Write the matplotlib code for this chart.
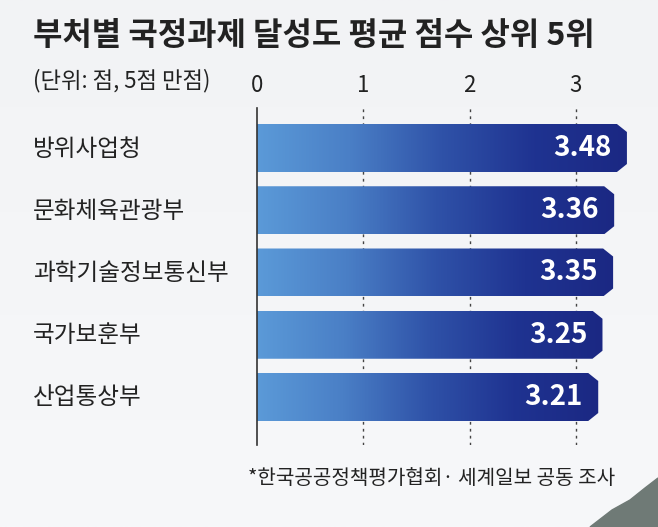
import numpy as np
import matplotlib.pyplot as plt
from matplotlib.colors import LinearSegmentedColormap
from matplotlib.patches import Polygon

plt.rcParams['font.family'] = ['Noto Sans CJK KR', 'DejaVu Sans']

title = '부처별 국정과제 달성도 평균 점수 상위 5위'
subtitle = '(단위: 점, 5점 만점)'
note = '*한국공공정책평가협회· 세계일보 공동 조사'
ministries = ['방위사업청', '문화체육관광부', '과학기술정보통신부', '국가보훈부', '산업통상부']
scores = [3.48, 3.36, 3.35, 3.25, 3.21]
ticks = [0, 1, 2, 3]

W, H = 658, 527
fig = plt.figure(figsize=(W / 100, H / 100), dpi=100)
fig.patch.set_facecolor('#f4f5f7')

# 배경 (아래쪽 산 그림자)
bg = fig.add_axes([0, 0, 1, 1])
bg.set_xlim(0, W)
bg.set_ylim(H, 0)
bg.axis('off')
grad = np.linspace(0, 1, 200)[:, None]
bg.imshow(grad, extent=(0, W, H, 0), cmap=LinearSegmentedColormap.from_list('bg', ['#f2f3f5', '#f7f8fa']),
          aspect='auto', zorder=0)
bg.add_patch(Polygon([(590, 527), (612, 510), (630, 500), (645, 488), (658, 478), (658, 527)],
                     closed=True, color='#6f7a76', zorder=1))

ppu = 106.3  # 1점당 픽셀
x0 = 257
xmax = 3.75
top, bottom = 108, 445
ax = fig.add_axes([x0 / W, 1 - bottom / H, xmax * ppu / W, (bottom - top) / H])
ax.set_facecolor('none')
step = 62.25
ylo = -(148 - top) / step
yhi = 4 + (bottom - 397) / step
ax.set_xlim(0, xmax)
ax.set_ylim(yhi, ylo)

cmap = LinearSegmentedColormap.from_list('bar', ['#5b9ad8', '#4a7fc6', '#2f52a8', '#1f3391', '#1b2883'])
h = 48 / step
cx = 10 / ppu
cy = 8 / step
for i, v in enumerate(scores):
    y1, y2 = i - h / 2, i + h / 2
    pts = [(0, y1), (v - cx, y1), (v, y1 + cy), (v, y2 - cy), (v - cx, y2), (0, y2)]
    poly = Polygon(pts, closed=True, facecolor='none', edgecolor='none')
    ax.add_patch(poly)
    im = ax.imshow(np.linspace(0, 1, 256)[None, :], extent=(0, v, y2, y1), cmap=cmap,
                   aspect='auto', zorder=2)
    im.set_clip_path(poly)
    ax.annotate(f'{v:.2f}', (v, i), xytext=(-11, 0), textcoords='offset points',
                ha='right', va='center', color='white', fontsize=20, fontweight='bold', zorder=3)
    fig.text(33 / W, 1 - (149 + i * step) / H, ministries[i], fontsize=17, color='#222222',
             ha='left', va='center')

ax.set_xticks(ticks)
ax.set_yticks([])
ax.xaxis.set_ticks_position('top')
ax.tick_params(axis='x', length=0, pad=8, labelsize=16, labelcolor='#222222')
for s in ['right', 'bottom', 'top']:
    ax.spines[s].set_visible(False)
ax.spines['left'].set_color('#333333')
ax.spines['left'].set_linewidth(1.2)
for t in ticks[1:]:
    ax.axvline(t, color='#444444', linestyle=(0, (2, 3)), linewidth=1, zorder=1)

fig.text(33 / W, 1 - 36 / H, title, fontsize=23, fontweight='bold', color='#222222', ha='left', va='center')
fig.text(33 / W, 1 - 81 / H, subtitle, fontsize=16, color='#222222', ha='left', va='center')
fig.text(248 / W, 1 - 478 / H, note, fontsize=14.5, color='#222222', ha='left', va='center')

fig.savefig('out.png', dpi=100, facecolor=fig.get_facecolor())
